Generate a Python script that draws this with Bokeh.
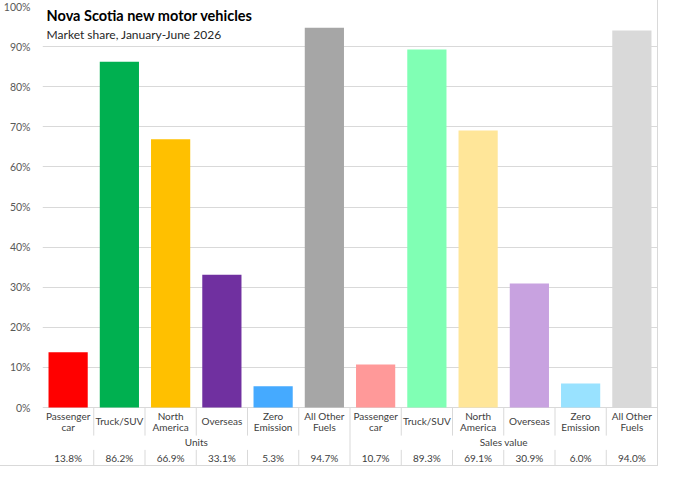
from bokeh.plotting import figure
from bokeh.models import Range1d, FixedTicker, PrintfTickFormatter, Label, ColumnDataSource
from bokeh.embed import file_html
from bokeh.resources import INLINE
from bokeh.core.properties import value

# ---- data ----
groups = ["Units", "Sales value"]
categories = ["Passenger\ncar", "Truck/SUV", "North\nAmerica", "Overseas", "Zero\nEmission", "All Other\nFuels"]
units = [13.8, 86.2, 66.9, 33.1, 5.3, 94.7]
sales_value = [10.7, 89.3, 69.1, 30.9, 6.0, 94.0]
units_colors = ["#FF0000", "#00B050", "#FFC000", "#7030A0", "#45AAFF", "#A6A6A6"]
sales_colors = ["#FF9999", "#80FFB4", "#FFE699", "#C8A2E0", "#99E2FF", "#D9D9D9"]
y_ticks = [0, 10, 20, 30, 40, 50, 60, 70, 80, 90, 100]
title_text = "Nova Scotia new motor vehicles"
subtitle_text = "Market share, January-June 2026"

FONT = "Lato"
GRID = "#D9D9D9"
TXT = "#404040"

n = len(categories)
all_vals = units + sales_value
all_cats = categories + categories
all_colors = units_colors + sales_colors
xs = [i + 0.5 for i in range(2 * n)]

Y_BOTTOM = -14.46
p = figure(width=657, height=465,
           x_range=Range1d(0, 2 * n), y_range=Range1d(Y_BOTTOM, 100),
           output_backend="svg", toolbar_location=None,
           x_axis_location=None,
           min_border_left=32, min_border_right=0,
           min_border_top=6, min_border_bottom=0)
p.outline_line_color = None
p.styles = {"outline": "1px solid #D9D9D9"}

# y axis
p.yaxis.ticker = FixedTicker(ticks=y_ticks)
p.yaxis.formatter = PrintfTickFormatter(format="%d%%")
p.yaxis.axis_line_color = None
p.yaxis.major_tick_line_color = None
p.yaxis.minor_tick_line_color = None
p.yaxis.major_label_standoff = 6
p.yaxis.major_label_text_font = FONT
p.yaxis.major_label_text_font_size = "10.5px"
p.yaxis.major_label_text_color = "#595959"
p.xgrid.visible = False
p.ygrid.grid_line_color = GRID
p.ygrid.grid_line_width = 1

# bars
src = ColumnDataSource(dict(x=xs, top=all_vals, color=all_colors,
                            cat=all_cats,
                            lbl=["%.1f%%" % v for v in all_vals]))
p.vbar(x="x", top="top", bottom=0, width=0.765, fill_color="color",
       line_color=None, source=src)

# table separators
sx0, sy0, sx1, sy1 = [], [], [], []
for k in range(1, 2 * n):
    if k == n:
        sx0.append(k); sy0.append(0); sx1.append(k); sy1.append(Y_BOTTOM)
    else:
        sx0 += [k, k]; sy0 += [0, -10.57]; sx1 += [k, k]; sy1 += [-7.0, Y_BOTTOM]
p.segment(x0=sx0, y0=sy0, x1=sx1, y1=sy1, line_color=GRID, line_width=1)

# category labels
p.text(x="x", y=-3.45, text="cat", source=src, text_align="center",
       text_baseline="middle", text_font=value(FONT), text_font_size="10px",
       text_color=TXT, text_line_height=0.95)
# value labels
p.text(x="x", y=-12.57, text="lbl", source=src, text_align="center",
       text_baseline="middle", text_font=value(FONT), text_font_size="10px",
       text_color=TXT)
# group labels
p.text(x=[n / 2, n + n / 2], y=[-8.7, -8.7], text=groups, text_align="center",
       text_baseline="middle", text_font=value(FONT), text_font_size="10px",
       text_color=TXT)

# title & subtitle
p.add_layout(Label(x=0.08, y=100, text=title_text, text_baseline="top",
                   text_font=FONT, text_font_size="14.5px", text_font_style="bold",
                   text_color="#000000"))
p.add_layout(Label(x=0.08, y=95.0, text=subtitle_text, text_baseline="top",
                   text_font=FONT, text_font_size="12px", text_color="#262626"))

open("out.html", "w").write(file_html(p, INLINE))
